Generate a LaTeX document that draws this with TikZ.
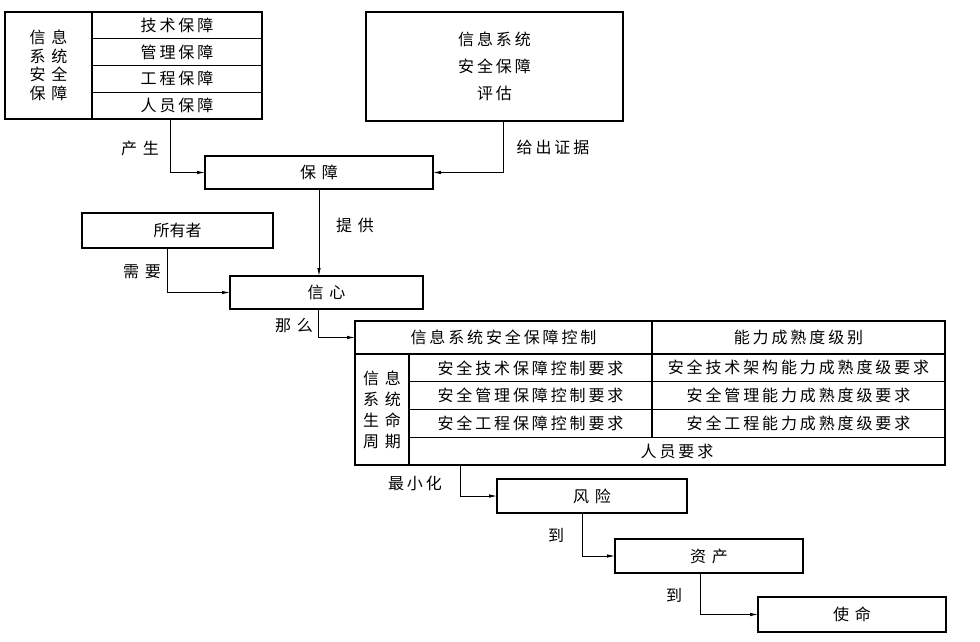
\documentclass[tikz,border=0pt]{standalone}
\usepackage{fontspec}
\usetikzlibrary{positioning,arrows.meta}
\newfontfamily\cjkn{Noto Sans CJK SC}
\newfontfamily\cjk[LetterSpace=18]{Noto Sans CJK SC}
\newfontfamily\cjkw[LetterSpace=36]{Noto Sans CJK SC}
\newcommand{\zhn}{\cjkn\fontsize{16}{18.5}\selectfont}
\newcommand{\zh}{\cjk\fontsize{16}{18.5}\selectfont}
\newcommand{\zhw}{\cjkw\fontsize{16}{18.5}\selectfont}

\begin{document}
\begin{tikzpicture}[x=1pt,y=-1pt,>={Latex[length=8pt,width=3.5pt]},
    box/.style={draw,line width=1.4pt,outer sep=0pt,inner sep=0pt,font=\zh,align=center},
    lab/.style={font=\zh,inner sep=0pt},
    link/.style={->,line width=0.8pt}]
    \path[fill=white,use as bounding box] (0,0) rectangle (980,642);
    % top left: assurance
    \node[box,font=\zhw,minimum width=87pt,minimum height=107pt] (xa) at (48.5,65.5) {信息\\系统\\安全\\保障};
    \node[box,minimum width=170pt,minimum height=26.75pt,anchor=north west] (xa1) at (xa.north east) {技术保障};
    \node[box,minimum width=170pt,minimum height=26.75pt,below=0pt of xa1] (xa2) {管理保障};
    \node[box,minimum width=170pt,minimum height=26.75pt,below=0pt of xa2] (xa3) {工程保障};
    \node[box,minimum width=170pt,minimum height=26.75pt,below=0pt of xa3] (xa4) {人员保障};
    % top right: evaluation
    \node[box,minimum width=257pt,minimum height=109pt] (pg) at (494.5,66.5) {信息系统\\[8.5pt]安全保障\\[8.5pt]评估};
    \node[box,font=\zhw,minimum width=228pt,minimum height=33pt] (bz) at (319,172.5) {保障};
    \node[box,font=\zhn,minimum width=191pt,minimum height=35pt] (syz) at (177.5,230.5) {所有者};
    \node[box,font=\zhw,minimum width=193pt,minimum height=33pt] (xx) at (326.5,292.5) {信心};
    % table
    \node[box,minimum width=297pt,minimum height=33pt] (hd1) at (503.5,337.5) {信息系统安全保障控制};
    \node[box,minimum width=293pt,minimum height=33pt,right=0pt of hd1] (hd2) {能力成熟度级别};
    \node[box,font=\zhw,minimum width=54pt,minimum height=111pt,anchor=north west] (smq) at (hd1.south west) {信息\\[2.5pt]系统\\[2.5pt]生命\\[2.5pt]周期};
    \node[box,minimum width=243pt,minimum height=27.75pt,anchor=north west] (r11) at (smq.north east) {安全技术保障控制要求};
    \node[box,minimum width=293pt,minimum height=27.75pt,right=0pt of r11] (r12) {安全技术架构能力成熟度级要求};
    \node[box,minimum width=243pt,minimum height=27.75pt,below=0pt of r11] (r21) {安全管理保障控制要求};
    \node[box,minimum width=293pt,minimum height=27.75pt,right=0pt of r21] (r22) {安全管理能力成熟度级要求};
    \node[box,minimum width=243pt,minimum height=27.75pt,below=0pt of r21] (r31) {安全工程保障控制要求};
    \node[box,minimum width=293pt,minimum height=27.75pt,right=0pt of r31] (r32) {安全工程能力成熟度级要求};
    \node[box,minimum width=536pt,minimum height=27.75pt,anchor=north west] (r4) at (r31.south west) {人员要求};
    % chain
    \node[box,font=\zhw,minimum width=190pt,minimum height=34pt] (fx) at (592,496) {风险};
    \node[box,font=\zhw,minimum width=188pt,minimum height=34pt] (zc) at (709,556) {资产};
    \node[box,font=\zhw,minimum width=188pt,minimum height=35pt] (sm) at (852,614.5) {使命};
    % links
    \draw[link] ([xshift=-7pt]xa4.south) |- (bz.west);
    \draw[link] ([xshift=8.5pt]pg.south) |- (bz.east);
    \draw[link] (bz.south) -- (bz.south |- xx.north);
    \draw[link] ([xshift=-10.5pt]syz.south) |- (xx.west);
    \draw[link] ([xshift=-8.5pt]xx.south) |- (hd1.west);
    \draw[link] ([xshift=51pt]r4.south west) |- (fx.west);
    \draw[link] ([xshift=-10pt]fx.south) |- (zc.west);
    \draw[link] ([xshift=-9pt]zc.south) |- (sm.west);
    % labels
    \node[lab,font=\zhw] (lcs) at (140,148) {产生};
    \node[lab] (lzj) at (553,147) {给出证据};
    \node[lab,font=\zhw] (ltg) at (355,225) {提供};
    \node[lab,font=\zhw] (lxy) at (142,272) {需要};
    \node[lab,font=\zhw] (lnm) at (294,325) {那么};
    \node[lab] (lzx) at (415,483) {最小化};
    \node[lab] (ld1) at (556,535) {到};
    \node[lab] (ld2) at (674,595) {到};
\end{tikzpicture}
\end{document}
